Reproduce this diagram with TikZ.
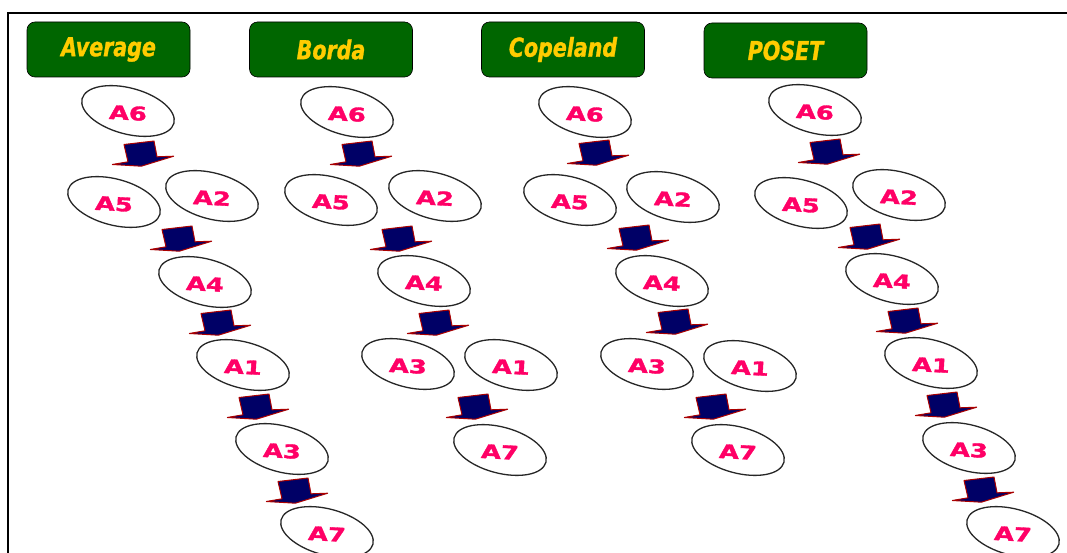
\documentclass[tikz,border=0pt]{standalone}
\usepackage{fontspec}
\usepackage{graphicx}
\usetikzlibrary{shapes.geometric}
\newfontfamily\hdrfont{DejaVu Sans Condensed}[BoldItalicFeatures={FakeBold=1.2}]
\newfontfamily\lblfont{DejaVu Sans}[BoldFeatures={FakeBold=1.6}]
\definecolor{hdrgreen}{HTML}{006600}
\definecolor{hdryellow}{HTML}{FFCC00}
\definecolor{lblpink}{HTML}{FF0066}
\definecolor{arrnavy}{HTML}{000066}
\definecolor{arrred}{HTML}{AA0000}
\newcommand\altnode[4]{%
  \node[elli] (#1) at (#2,#3) {};
  \node[lbl] (#1t) at (#2,{#3+2}) {\scalebox{1.35}[1]{#4}};}
\newcommand\hdrtext[1]{\scalebox{0.88}[1]{#1}}
\begin{document}
\begin{tikzpicture}[x=1pt,y=-1pt,
  hdr/.style={draw=black, line width=0.6pt, fill=hdrgreen, rounded corners=8pt,
    minimum width=163pt, minimum height=55pt, inner sep=0pt, text=hdryellow,
    font=\hdrfont\bfseries\itshape\fontsize{26}{26}\selectfont},
  elli/.style={ellipse, draw=black!85, line width=1.3pt, minimum width=95pt,
    minimum height=46pt, inner sep=0pt, rotate=-15},
  lbl/.style={text=lblpink, font=\lblfont\bfseries\fontsize{19}{19}\selectfont,
    inner sep=0pt, rotate=-3},
  blockarrow/.pic={\filldraw[fill=arrnavy, draw=arrred, line width=1pt, line join=round]
    (-19,-9.5) -- (11,-13) -- (14,2.8) -- (30.7,2.2) -- (-1.7,12.2) -- (-30.7,10.5) -- (-15,7.8) -- cycle;}
]
\useasboundingbox (0,0) rectangle (1067,553);
\clip (0,0) rectangle (1067,553);
\fill[white] (0,0) rectangle (1067,553);
% frame
\draw[line width=2pt] (8,560) -- (8,13) -- (1070,13);
% headers
\node[hdr] (hAvg) at (108.5,49.5) {\hdrtext{Average}};
\node[hdr] (hBorda) at (331,49.5) {\hdrtext{Borda}};
\node[hdr] (hCope) at (563,49.5) {\hdrtext{Copeland}};
\node[hdr] (hPoset) at (785.5,50.5) {\hdrtext{POSET}};
% column 1: Average
\altnode{caa6}{128}{111}{A6}
\pic at (143,154) {blockarrow};
\altnode{caa5}{114}{202}{A5}
\altnode{caa2}{212}{196}{A2}
\pic at (181,239) {blockarrow};
\altnode{caa4}{205}{282}{A4}
\pic at (220,323) {blockarrow};
\altnode{caa1}{243}{365}{A1}
\pic at (258,407) {blockarrow};
\altnode{caa3}{282}{449}{A3}
\pic at (297,491) {blockarrow};
\altnode{caa7}{327}{532}{A7}
% column 2: Borda
\altnode{cba6}{347}{112}{A6}
\pic at (361,154) {blockarrow};
\altnode{cba5}{331}{200}{A5}
\altnode{cba2}{435}{196}{A2}
\pic at (401,239) {blockarrow};
\altnode{cba4}{424}{281}{A4}
\pic at (438,323) {blockarrow};
\altnode{cba3}{408}{364}{A3}
\altnode{cba1}{511}{365}{A1}
\pic at (477,407) {blockarrow};
\altnode{cba7}{500}{450}{A7}
% column 3: Copeland
\altnode{cca6}{585}{112}{A6}
\pic at (598,153) {blockarrow};
\altnode{cca5}{570}{200}{A5}
\altnode{cca2}{673}{197}{A2}
\pic at (638,238) {blockarrow};
\altnode{cca4}{662}{281}{A4}
\pic at (677,322) {blockarrow};
\altnode{cca3}{647}{364}{A3}
\altnode{cca1}{750}{366}{A1}
\pic at (715,407) {blockarrow};
\altnode{cca7}{738}{450}{A7}
% column 4: POSET
\altnode{cda6}{815}{110}{A6}
\pic at (829,152) {blockarrow};
\altnode{cda5}{801}{203}{A5}
\altnode{cda2}{899}{195}{A2}
\pic at (869,237) {blockarrow};
\altnode{cda4}{892}{279}{A4}
\pic at (907,321) {blockarrow};
\altnode{cda1}{931}{363}{A1}
\pic at (946,405) {blockarrow};
\altnode{cda3}{969}{448}{A3}
\pic at (983,490) {blockarrow};
\altnode{cda7}{1013}{532}{A7}
\end{tikzpicture}
\end{document}
